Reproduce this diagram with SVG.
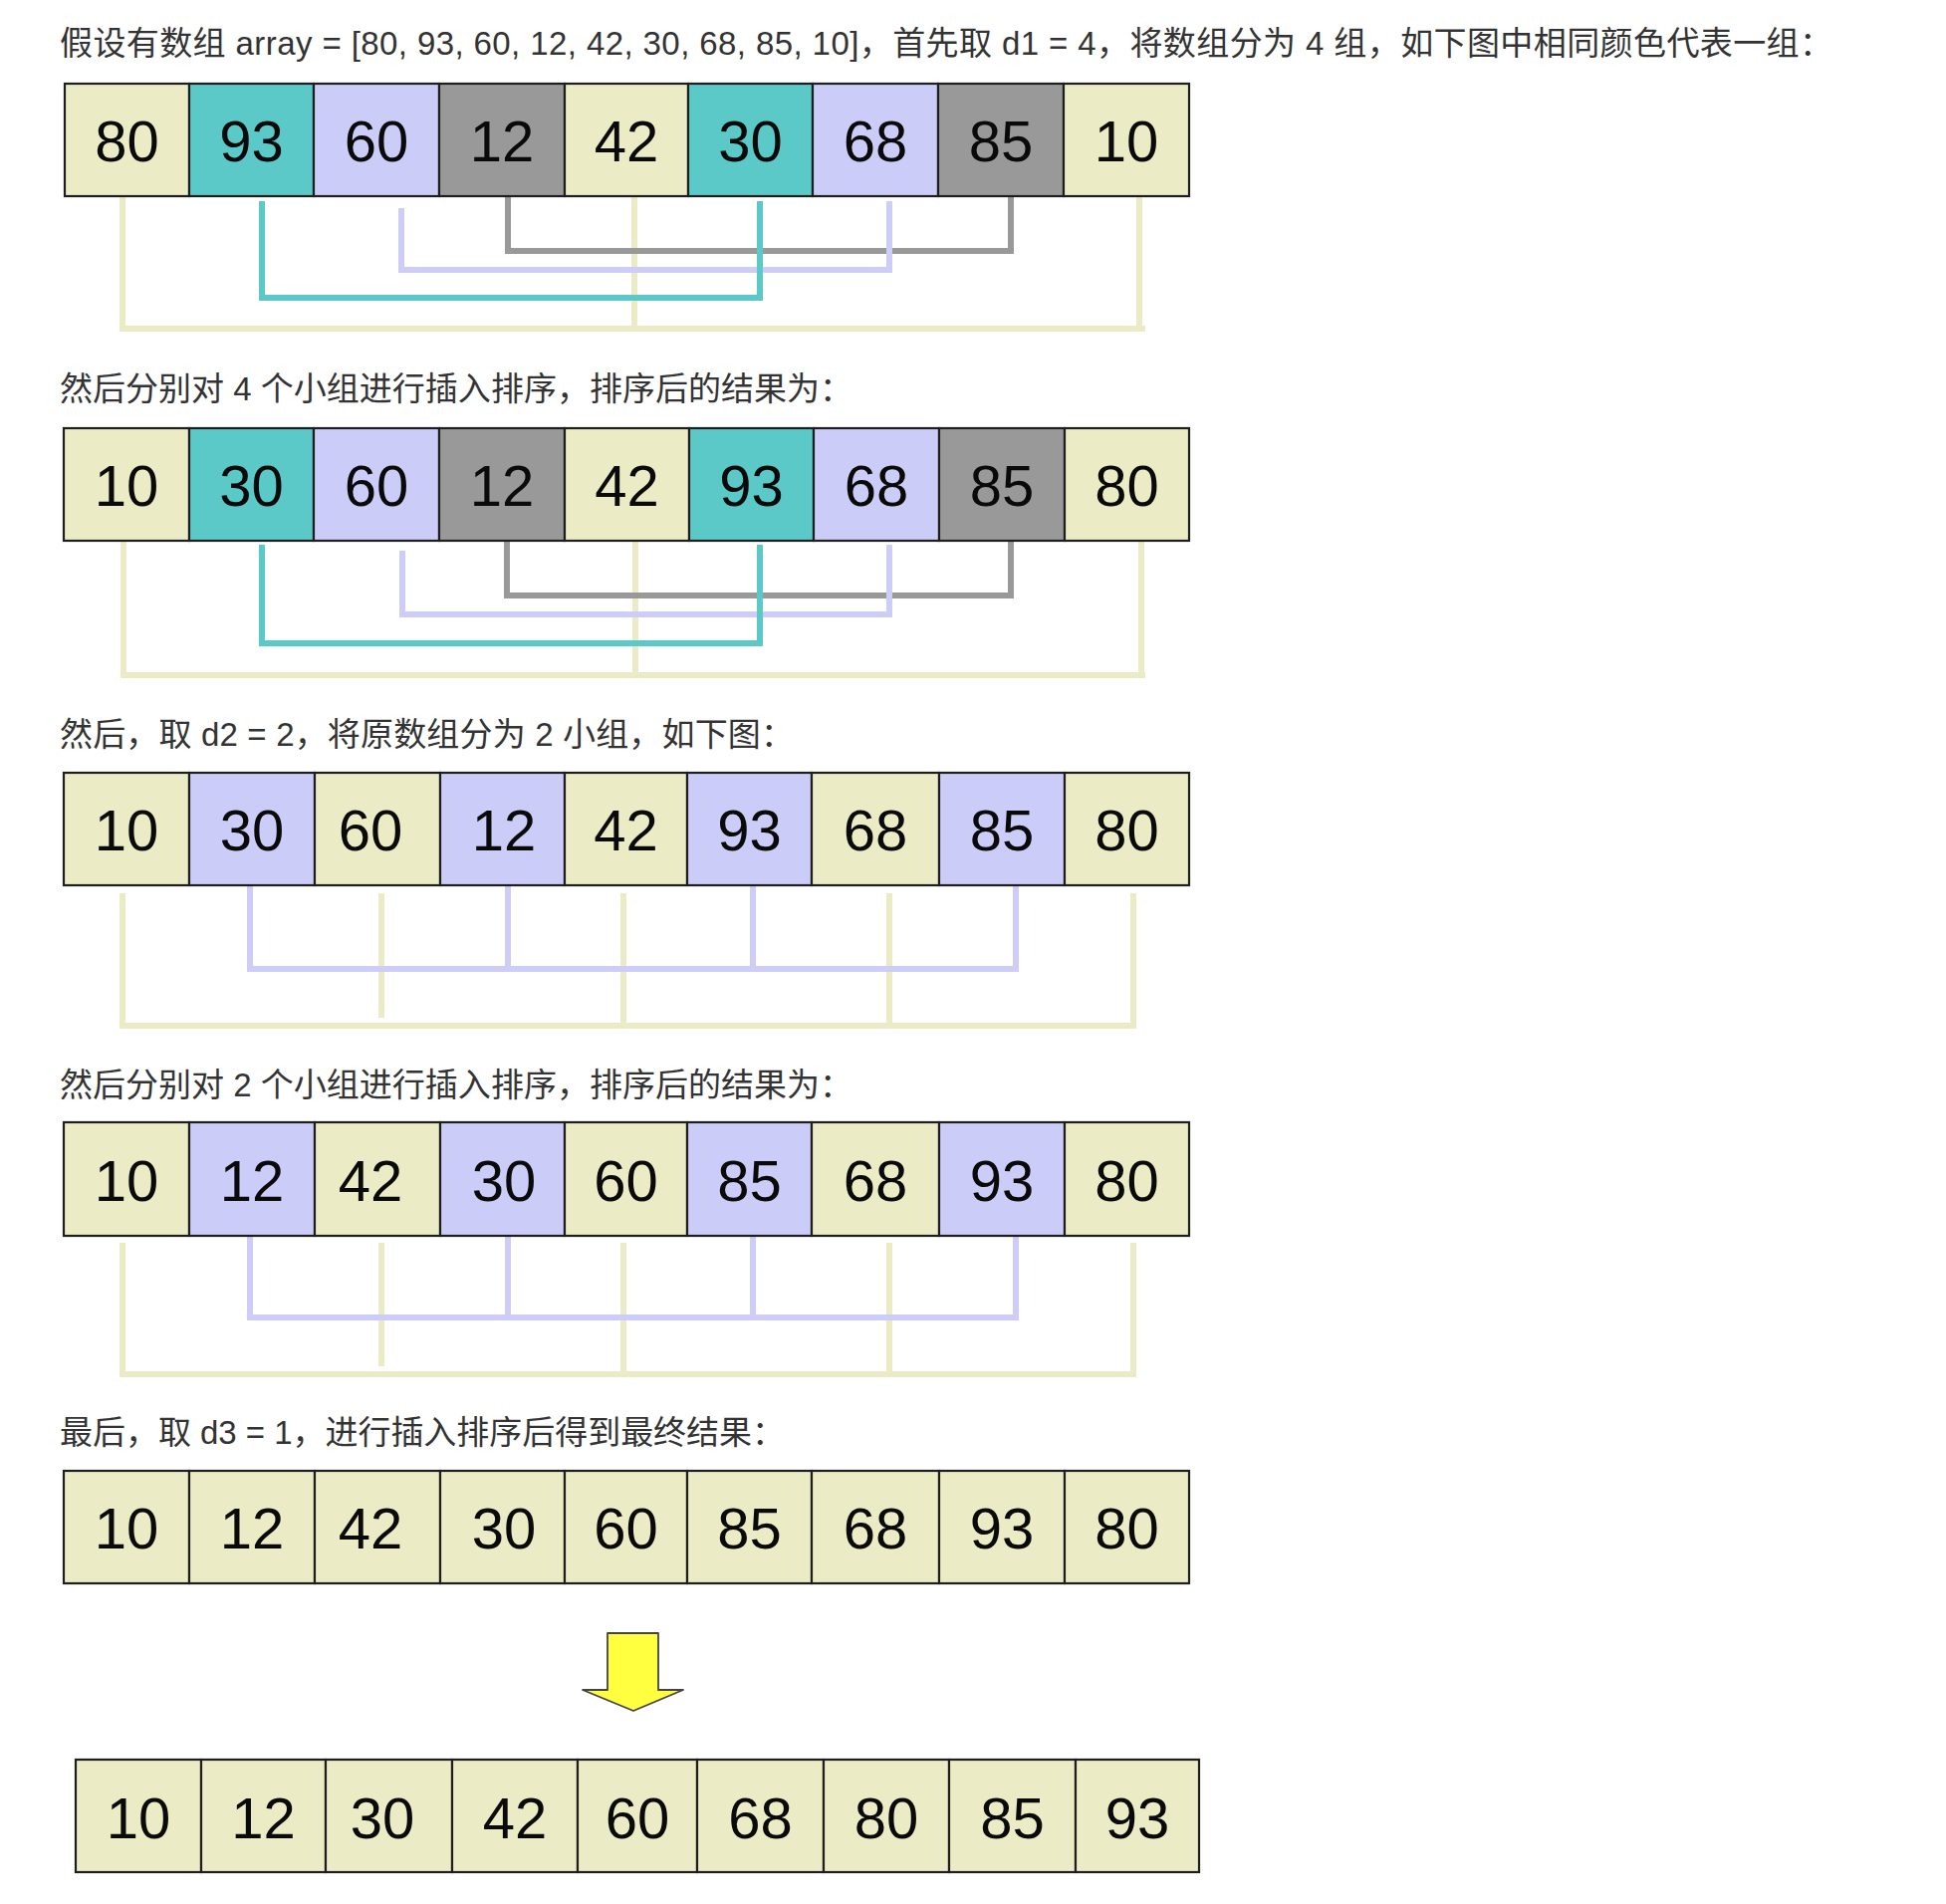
<svg xmlns="http://www.w3.org/2000/svg" width="1954" height="1912" viewBox="0 0 1954 1912">
<style>
.title{font-family:"Liberation Sans","Noto Sans CJK SC",sans-serif;font-size:33px;fill:#333333}
.cell rect{stroke:#1e1e1e;stroke-width:2.2}
.cell text{font-family:"Liberation Sans",Arial,sans-serif;font-size:58px;fill:#0a0a0a;text-anchor:middle}
.y rect{fill:#EBEBC6}
.t rect{fill:#5CC9C9}
.l rect{fill:#CCCCF8}
.g rect{fill:#999999}
.cy{stroke:#EBEBC6;stroke-width:6;fill:none}
.ct{stroke:#5CC9C9;stroke-width:6;fill:none}
.cl{stroke:#CDCDF8;stroke-width:6;fill:none}
.cg{stroke:#999999;stroke-width:6;fill:none}
</style>
<rect x="0" y="0" width="1954" height="1912" fill="#ffffff"/>

<g id="titles">
<text id="title1" class="title" x="60" y="55" textLength="1780" lengthAdjust="spacing">假设有数组 array = [80, 93, 60, 12, 42, 30, 68, 85, 10]，首先取 d1 = 4，将数组分为 4 组，如下图中相同颜色代表一组：</text>
<text id="title2" class="title" x="60" y="402" textLength="796" lengthAdjust="spacing">然后分别对 4 个小组进行插入排序，排序后的结果为：</text>
<text id="title3" class="title" x="60" y="749" textLength="737" lengthAdjust="spacing">然后，取 d2 = 2，将原数组分为 2 小组，如下图：</text>
<text id="title4" class="title" x="60" y="1101" textLength="796" lengthAdjust="spacing">然后分别对 2 个小组进行插入排序，排序后的结果为：</text>
<text id="title5" class="title" x="60" y="1450" textLength="728" lengthAdjust="spacing">最后，取 d3 = 1，进行插入排序后得到最终结果：</text>
</g>

<g id="connectors">
<!-- row 1 -->
<path class="cy" d="M123 197 V330 H1150 M1144 197 V330 M637 197 V330"/>
<path class="cg" d="M510 197 V252 H1015 V197"/>
<path class="cl" d="M403 209 V271 H893 V202"/>
<path class="ct" d="M263 202 V299 H763 V202"/>
<!-- row 2 -->
<path class="cy" d="M124 543 V678 H1150 M1146 543 V678 M638 543 V678"/>
<path class="cg" d="M509 543 V598 H1015 V541"/>
<path class="cl" d="M404 553 V617 H893 V547"/>
<path class="ct" d="M263 547 V646 H763 V547"/>
<!-- row 3 -->
<path class="cy" d="M123 897 V1030 H1141 M1138 897 V1030 M383 897 V1022 M626 897 V1030 M893 897 V1030"/>
<path class="cl" d="M251 889 V973 H1020 V889 M510 889 V970 M756 889 V973"/>
<!-- row 4 -->
<path class="cy" d="M123 1248 V1380 H1141 M1138 1248 V1380 M383 1248 V1372 M626 1248 V1380 M893 1248 V1380"/>
<path class="cl" d="M251 1241 V1323 H1020 V1241 M510 1241 V1320 M756 1241 V1323"/>
</g>

<g id="arrow">
<polygon points="610,1640 661,1640 661,1697 686,1697 636,1718 585,1697 610,1697" fill="#FFFF40" stroke="#444444" stroke-width="1.8" stroke-linejoin="round"/>
</g>

<!-- Row 1 -->
<g id="r1c1" class="cell y"><rect x="65" y="84" width="125" height="113"/><text x="127.5" y="162">80</text></g>
<g id="r1c2" class="cell t"><rect x="190" y="84" width="125" height="113"/><text x="252.5" y="162">93</text></g>
<g id="r1c3" class="cell l"><rect x="315" y="84" width="126" height="113"/><text x="378" y="162">60</text></g>
<g id="r1c4" class="cell g"><rect x="441" y="84" width="126" height="113"/><text x="504" y="162">12</text></g>
<g id="r1c5" class="cell y"><rect x="567" y="84" width="124" height="113"/><text x="629" y="162">42</text></g>
<g id="r1c6" class="cell t"><rect x="691" y="84" width="125" height="113"/><text x="753.5" y="162">30</text></g>
<g id="r1c7" class="cell l"><rect x="816" y="84" width="126" height="113"/><text x="879" y="162">68</text></g>
<g id="r1c8" class="cell g"><rect x="942" y="84" width="126" height="113"/><text x="1005" y="162">85</text></g>
<g id="r1c9" class="cell y"><rect x="1068" y="84" width="126" height="113"/><text x="1131" y="162">10</text></g>

<!-- Row 2 -->
<g id="r2c1" class="cell y"><rect x="64" y="430" width="126" height="113"/><text x="127" y="508">10</text></g>
<g id="r2c2" class="cell t"><rect x="190" y="430" width="125" height="113"/><text x="252.5" y="508">30</text></g>
<g id="r2c3" class="cell l"><rect x="315" y="430" width="126" height="113"/><text x="378" y="508">60</text></g>
<g id="r2c4" class="cell g"><rect x="441" y="430" width="126" height="113"/><text x="504" y="508">12</text></g>
<g id="r2c5" class="cell y"><rect x="567" y="430" width="125" height="113"/><text x="629.5" y="508">42</text></g>
<g id="r2c6" class="cell t"><rect x="692" y="430" width="125" height="113"/><text x="754.5" y="508">93</text></g>
<g id="r2c7" class="cell l"><rect x="817" y="430" width="126" height="113"/><text x="880" y="508">68</text></g>
<g id="r2c8" class="cell g"><rect x="943" y="430" width="126" height="113"/><text x="1006" y="508">85</text></g>
<g id="r2c9" class="cell y"><rect x="1069" y="430" width="125" height="113"/><text x="1131.5" y="508">80</text></g>

<!-- Row 3 -->
<g id="r3c1" class="cell y"><rect x="64" y="776" width="126" height="113"/><text x="127" y="854">10</text></g>
<g id="r3c2" class="cell l"><rect x="190" y="776" width="126" height="113"/><text x="253" y="854">30</text></g>
<g id="r3c3" class="cell y"><rect x="316" y="776" width="126" height="113"/><text x="372" y="854">60</text></g>
<g id="r3c4" class="cell l"><rect x="442" y="776" width="125" height="113"/><text x="506" y="854">12</text></g>
<g id="r3c5" class="cell y"><rect x="567" y="776" width="123" height="113"/><text x="628.5" y="854">42</text></g>
<g id="r3c6" class="cell l"><rect x="690" y="776" width="125" height="113"/><text x="752.5" y="854">93</text></g>
<g id="r3c7" class="cell y"><rect x="815" y="776" width="128" height="113"/><text x="879" y="854">68</text></g>
<g id="r3c8" class="cell l"><rect x="943" y="776" width="126" height="113"/><text x="1006" y="854">85</text></g>
<g id="r3c9" class="cell y"><rect x="1069" y="776" width="125" height="113"/><text x="1131.5" y="854">80</text></g>

<!-- Row 4 -->
<g id="r4c1" class="cell y"><rect x="64" y="1127" width="126" height="114"/><text x="127" y="1206">10</text></g>
<g id="r4c2" class="cell l"><rect x="190" y="1127" width="126" height="114"/><text x="253" y="1206">12</text></g>
<g id="r4c3" class="cell y"><rect x="316" y="1127" width="126" height="114"/><text x="372" y="1206">42</text></g>
<g id="r4c4" class="cell l"><rect x="442" y="1127" width="125" height="114"/><text x="506" y="1206">30</text></g>
<g id="r4c5" class="cell y"><rect x="567" y="1127" width="123" height="114"/><text x="628.5" y="1206">60</text></g>
<g id="r4c6" class="cell l"><rect x="690" y="1127" width="125" height="114"/><text x="752.5" y="1206">85</text></g>
<g id="r4c7" class="cell y"><rect x="815" y="1127" width="128" height="114"/><text x="879" y="1206">68</text></g>
<g id="r4c8" class="cell l"><rect x="943" y="1127" width="126" height="114"/><text x="1006" y="1206">93</text></g>
<g id="r4c9" class="cell y"><rect x="1069" y="1127" width="125" height="114"/><text x="1131.5" y="1206">80</text></g>

<!-- Row 5 -->
<g id="r5c1" class="cell y"><rect x="64" y="1477" width="126" height="113"/><text x="127" y="1555">10</text></g>
<g id="r5c2" class="cell y"><rect x="190" y="1477" width="126" height="113"/><text x="253" y="1555">12</text></g>
<g id="r5c3" class="cell y"><rect x="316" y="1477" width="126" height="113"/><text x="372" y="1555">42</text></g>
<g id="r5c4" class="cell y"><rect x="442" y="1477" width="125" height="113"/><text x="506" y="1555">30</text></g>
<g id="r5c5" class="cell y"><rect x="567" y="1477" width="123" height="113"/><text x="628.5" y="1555">60</text></g>
<g id="r5c6" class="cell y"><rect x="690" y="1477" width="125" height="113"/><text x="752.5" y="1555">85</text></g>
<g id="r5c7" class="cell y"><rect x="815" y="1477" width="128" height="113"/><text x="879" y="1555">68</text></g>
<g id="r5c8" class="cell y"><rect x="943" y="1477" width="126" height="113"/><text x="1006" y="1555">93</text></g>
<g id="r5c9" class="cell y"><rect x="1069" y="1477" width="125" height="113"/><text x="1131.5" y="1555">80</text></g>

<!-- Row 6 (final) -->
<g id="r6c1" class="cell y"><rect x="76" y="1767" width="126" height="113"/><text x="139" y="1846">10</text></g>
<g id="r6c2" class="cell y"><rect x="202" y="1767" width="125" height="113"/><text x="264.5" y="1846">12</text></g>
<g id="r6c3" class="cell y"><rect x="327" y="1767" width="127" height="113"/><text x="384" y="1846">30</text></g>
<g id="r6c4" class="cell y"><rect x="454" y="1767" width="126" height="113"/><text x="517" y="1846">42</text></g>
<g id="r6c5" class="cell y"><rect x="580" y="1767" width="120" height="113"/><text x="640" y="1846">60</text></g>
<g id="r6c6" class="cell y"><rect x="700" y="1767" width="127" height="113"/><text x="763.5" y="1846">68</text></g>
<g id="r6c7" class="cell y"><rect x="827" y="1767" width="126" height="113"/><text x="890" y="1846">80</text></g>
<g id="r6c8" class="cell y"><rect x="953" y="1767" width="127" height="113"/><text x="1016.5" y="1846">85</text></g>
<g id="r6c9" class="cell y"><rect x="1080" y="1767" width="124" height="113"/><text x="1142" y="1846">93</text></g>
</svg>
